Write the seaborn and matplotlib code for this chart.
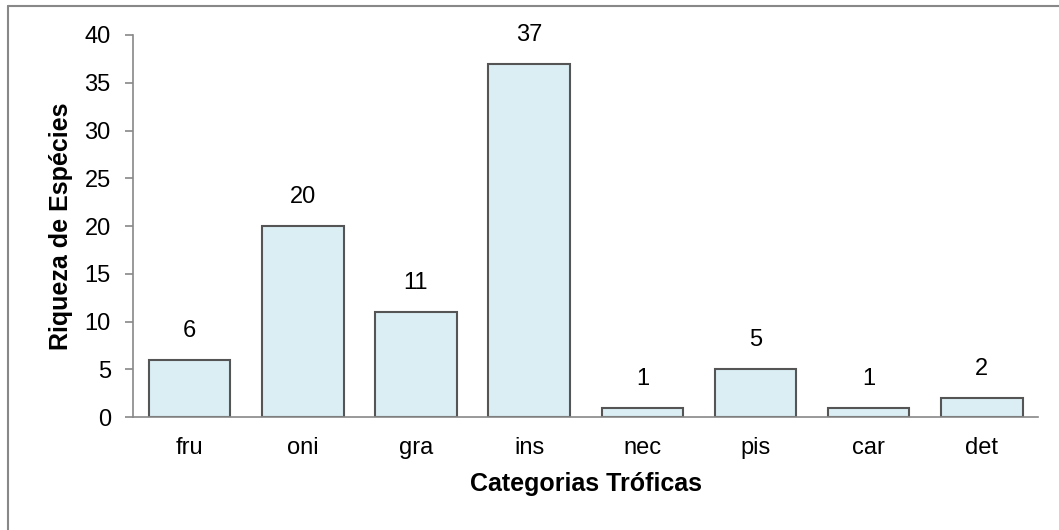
import matplotlib
matplotlib.use("Agg")
import matplotlib.pyplot as plt
import seaborn as sns
import pandas as pd

categorias = ["fru", "oni", "gra", "ins", "nec", "pis", "car", "det"]
riqueza = [6, 20, 11, 37, 1, 5, 1, 2]

df = pd.DataFrame({"cat": categorias, "riq": riqueza})

sns.set_style("white")
plt.rcParams["font.family"] = ["Liberation Sans", "DejaVu Sans"]
plt.rcParams["text.color"] = "black"
plt.rcParams["xtick.color"] = "black"
plt.rcParams["ytick.color"] = "black"
plt.rcParams["axes.labelcolor"] = "black"

fig = plt.figure(figsize=[10.59, 5.30], dpi=100)
ax = fig.add_axes([0.1256, 0.213, 0.855, 0.721])

sns.barplot(data=df, x="cat", y="riq", color="#DAEEF3", saturation=1,
            edgecolor="#555555", linewidth=1.5, width=0.72, ax=ax)

for c in ax.containers:
    ax.bar_label(c, padding=13, fontsize=17, color="black")

ax.set_ylim(0, 40)
ax.set_yticks(range(0, 41, 5))
ax.set_xlim(-0.5, 7.5)
ax.tick_params(axis="y", direction="out", length=6, width=1.2, color="#888888",
               labelcolor="black", labelsize=17, pad=10, left=True)
ax.tick_params(axis="x", length=0, labelsize=17, pad=14, labelcolor="black")

for s in ["top", "right"]:
    ax.spines[s].set_visible(False)
for s in ["left", "bottom"]:
    ax.spines[s].set_color("#888888")
    ax.spines[s].set_linewidth(1.2)

ax.set_xlabel("Categorias Tróficas", fontsize=18, fontweight="bold", labelpad=10)
ax.set_ylabel("Riqueza de Espécies", fontsize=18, fontweight="bold", labelpad=8)

# borda externa (cortada em baixo e a direita)
fig.add_artist(plt.Line2D([0.0075, 0.0075], [0, 0.989], transform=fig.transFigure,
                          color="#888888", linewidth=1.5))
fig.add_artist(plt.Line2D([0.0075, 1.0], [0.989, 0.989], transform=fig.transFigure,
                          color="#888888", linewidth=1.5))

plt.savefig("out.png", dpi=100)
plt.close()
